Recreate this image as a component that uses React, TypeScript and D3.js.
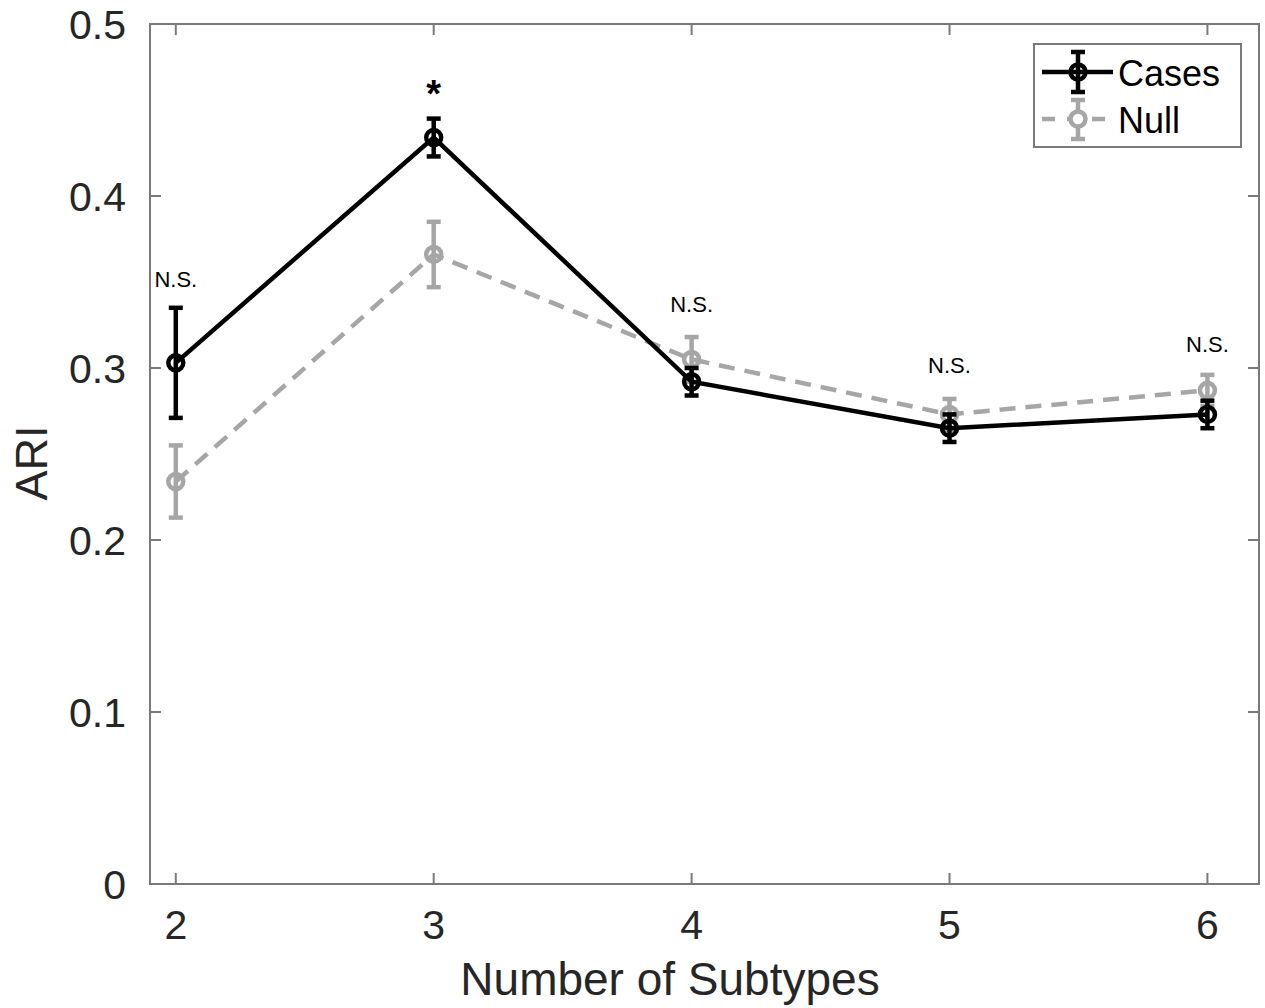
import React from "react";
import * as d3 from "d3";

const subtypes = [2, 3, 4, 5, 6];
const casesMean = [0.303, 0.434, 0.292, 0.265, 0.273];
const casesErr = [0.032, 0.011, 0.008, 0.008, 0.008];
const nullMean = [0.234, 0.366, 0.305, 0.273, 0.287];
const nullErr = [0.021, 0.019, 0.013, 0.009, 0.009];
const annotations = ["N.S.", "*", "N.S.", "N.S.", "N.S."];
const annotY = [0.352, 0.463, 0.337, 0.302, 0.314];
const yTicks = [0, 0.1, 0.2, 0.3, 0.4, 0.5];

const W = 1265, H = 1008;
const L = 150, R = 1259, T = 24, B = 884;
const FONT = "'Liberation Sans', Arial, Helvetica, sans-serif";

export default function App() {
  const x = d3.scaleLinear().domain([1.9, 6.2]).range([L, R]);
  const y = d3.scaleLinear().domain([0, 0.5]).range([B, T]);
  const line = d3.line<[number, number]>().x(d => x(d[0])).y(d => y(d[1]));
  const cPts = subtypes.map((s, i) => [s, casesMean[i]] as [number, number]);
  const nPts = subtypes.map((s, i) => [s, nullMean[i]] as [number, number]);
  const axisCol = "#7a7a7a";
  const gray = "#a6a6a6";
  const cap = 7;
  const r = 7.5;
  const sw = 4.5;

  const errBars = (means: number[], errs: number[], col: string) =>
    subtypes.map((s, i) => {
      const cx = x(s);
      const y1 = y(means[i] + errs[i]);
      const y2 = y(means[i] - errs[i]);
      return (
        <g key={i} stroke={col} strokeWidth={sw} fill="none">
          <line x1={cx} x2={cx} y1={y1} y2={y2} />
          <line x1={cx - cap} x2={cx + cap} y1={y1} y2={y1} />
          <line x1={cx - cap} x2={cx + cap} y1={y2} y2={y2} />
          <circle cx={cx} cy={y(means[i])} r={r} />
        </g>
      );
    });

  return (
    <svg width={W} height={H} style={{ position: "absolute", left: 0, top: 0, background: "#fff" }}>
      <rect x={0} y={0} width={W} height={H} fill="#fff" />
      <rect x={L} y={T} width={R - L} height={B - T} fill="none" stroke={axisCol} strokeWidth={2} />
      {subtypes.map(s => (
        <g key={s}>
          <line x1={x(s)} x2={x(s)} y1={B} y2={B - 11} stroke={axisCol} strokeWidth={2} />
          <line x1={x(s)} x2={x(s)} y1={T} y2={T + 11} stroke={axisCol} strokeWidth={2} />
          <text x={x(s)} y={B + 55} textAnchor="middle" fontSize={41} fill="#262626" fontFamily={FONT}>{s}</text>
        </g>
      ))}
      {yTicks.map(t => (
        <g key={t}>
          <line x1={L} x2={L + 11} y1={y(t)} y2={y(t)} stroke={axisCol} strokeWidth={2} />
          <line x1={R} x2={R - 11} y1={y(t)} y2={y(t)} stroke={axisCol} strokeWidth={2} />
          <text x={L - 24} y={y(t) + 15} textAnchor="end" fontSize={41} fill="#262626" fontFamily={FONT}>{t === 0 ? "0" : d3.format(".1f")(t)}</text>
        </g>
      ))}
      <text x={670} y={995} textAnchor="middle" fontSize={46} fill="#262626" fontFamily={FONT}>Number of Subtypes</text>
      <text transform={`translate(47, 463) rotate(-90)`} textAnchor="middle" fontSize={45} fill="#262626" fontFamily={FONT}>ARI</text>

      <path d={line(nPts) || ""} fill="none" stroke={gray} strokeWidth={sw} strokeDasharray="16 10" />
      {errBars(nullMean, nullErr, gray)}
      <path d={line(cPts) || ""} fill="none" stroke="#000" strokeWidth={sw} />
      {errBars(casesMean, casesErr, "#000")}

      {subtypes.map((s, i) => (
        <text key={s} x={x(s)} y={y(annotY[i])} textAnchor="middle"
          fontSize={annotations[i] === "*" ? 38 : 22} fill="#000" fontFamily={FONT}
          fontWeight={annotations[i] === "*" ? 700 : 400}
          dy={annotations[i] === "*" ? 19 : 8}>{annotations[i]}</text>
      ))}

      <rect x={1034} y={44} width={207} height={103} fill="#fff" stroke={axisCol} strokeWidth={2} />
      <g>
        <line x1={1042} x2={1113} y1={72} y2={72} stroke="#000" strokeWidth={sw} />
        <g stroke="#000" strokeWidth={sw} fill="none">
          <line x1={1078} x2={1078} y1={52} y2={92} />
          <line x1={1071} x2={1085} y1={52} y2={52} />
          <line x1={1071} x2={1085} y1={92} y2={92} />
          <circle cx={1078} cy={72} r={r} />
        </g>
        <text x={1118} y={86} fontSize={36} fill="#000" fontFamily={FONT}>Cases</text>
      </g>
      <g>
        <line x1={1042} x2={1113} y1={119} y2={119} stroke={gray} strokeWidth={sw} strokeDasharray="13 12" />
        <g stroke={gray} strokeWidth={sw} fill="none">
          <line x1={1078} x2={1078} y1={100} y2={139} />
          <line x1={1071} x2={1085} y1={100} y2={100} />
          <line x1={1071} x2={1085} y1={139} y2={139} />
          <circle cx={1078} cy={119} r={r} fill="#fff" />
        </g>
        <text x={1118} y={133} fontSize={36} fill="#000" fontFamily={FONT}>Null</text>
      </g>
    </svg>
  );
}
